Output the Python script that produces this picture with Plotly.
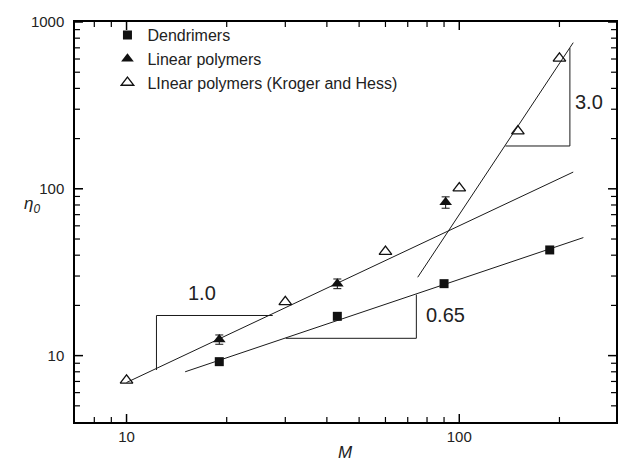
import math
import plotly.graph_objects as go

# ---- data ----
dend_M = [19, 43, 90, 187]
dend_eta = [9.2, 17.2, 27.0, 43.0]

lin_M = [19, 43, 91]
lin_eta = [12.5, 27.0, 83.0]
lin_err = [0.8, 1.8, 6.5]

kh_M = [10, 30, 60, 100, 150, 200]
kh_eta = [7.1, 21.0, 42.0, 101.0, 222.0, 605.0]

# fitted lines (end points)
fit_dend_M = [15, 236]
fit_dend_eta = [8.0, 51.0]
fit_lin_M = [10, 220]
fit_lin_eta = [6.9, 126.0]
fit_ent_M = [75, 220]
fit_ent_eta = [29.5, 752.0]

# slope triangles
tri1_M = [12.3, 12.3, 27.5]
tri1_eta = [8.2, 17.4, 17.4]
tri2_M = [30.1, 74.3, 74.3]
tri2_eta = [12.7, 12.7, 23.2]
tri3_M = [137.6, 215, 215]
tri3_eta = [180.6, 180.6, 698.0]

slope_labels = ["1.0", "0.65", "3.0"]
slope_label_M = [16.8, 78.5, 246]
slope_label_eta = [23.9, 17.4, 332]
slope_label_anchor = ["center", "left", "center"]

x_major = [10, 100]
y_major = [10, 100, 1000]

FONT = "Liberation Sans, Arial, sans-serif"
INK = "#222222"

X_MIN, X_MAX = 7.0, 10 ** 2.471
Y_MIN, Y_MAX = 4.0, 1000.0
X_RANGE = [math.log10(X_MIN), math.log10(X_MAX)]
Y_RANGE = [math.log10(Y_MIN), math.log10(Y_MAX)]
PLOT_W, PLOT_H = 543, 400
PX_PER_DEC_X = PLOT_W / (X_RANGE[1] - X_RANGE[0])
PX_PER_DEC_Y = PLOT_H / (Y_RANGE[1] - Y_RANGE[0])

fig = go.Figure()

line_style = dict(color="#1a1a1a", width=1)
for xs, ys in [(fit_dend_M, fit_dend_eta), (fit_lin_M, fit_lin_eta), (fit_ent_M, fit_ent_eta),
               (tri1_M, tri1_eta), (tri2_M, tri2_eta), (tri3_M, tri3_eta)]:
    fig.add_trace(go.Scatter(x=xs, y=ys, mode="lines", line=line_style,
                             showlegend=False, hoverinfo="skip"))

# inward tick marks on all four sides (built from the tick value lists)
def minor_in(lo, hi):
    out = []
    for d in range(0, 4):
        for k in range(2, 10):
            v = k * 10 ** d
            if lo < v < hi:
                out.append(v)
    return out

def tick_segments(length_px, xvals, yvals):
    fx = 10 ** (length_px / PX_PER_DEC_X)
    fy = 10 ** (length_px / PX_PER_DEC_Y)
    xs, ys = [], []
    for v in xvals:
        xs += [v, v, None, v, v, None]
        ys += [Y_MIN, Y_MIN * fy, None, Y_MAX, Y_MAX / fy, None]
    for v in yvals:
        xs += [X_MIN, X_MIN * fx, None, X_MAX, X_MAX / fx, None]
        ys += [v, v, None, v, v, None]
    return xs, ys

for length, width, xv, yv in [(8, 1.5, x_major, y_major),
                              (5, 1.2, minor_in(X_MIN, X_MAX), minor_in(Y_MIN, Y_MAX))]:
    tx, ty = tick_segments(length, xv, yv)
    fig.add_trace(go.Scatter(x=tx, y=ty, mode="lines", line=dict(color="black", width=width),
                             connectgaps=False, showlegend=False, hoverinfo="skip"))

fig.add_trace(go.Scatter(x=dend_M, y=dend_eta, mode="markers", name="Dendrimers",
                         marker=dict(symbol="square", size=9, color="#111111")))
fig.add_trace(go.Scatter(x=lin_M, y=lin_eta, mode="markers", name="Linear polymers",
                         marker=dict(symbol="triangle-up", size=11, color="#111111"),
                         error_y=dict(type="data", array=lin_err, color="#111111",
                                      thickness=1, width=4)))
fig.add_trace(go.Scatter(x=kh_M, y=kh_eta, mode="markers",
                         name="LInear polymers (Kroger and Hess)",
                         marker=dict(symbol="triangle-up-open", size=11, color="#111111",
                                     line=dict(width=1.3, color="#111111"))))

for t, mx, my, anc in zip(slope_labels, slope_label_M, slope_label_eta, slope_label_anchor):
    fig.add_annotation(x=math.log10(mx), y=math.log10(my), text=t, showarrow=False,
                       xanchor=anc, font=dict(family=FONT, size=20, color=INK))

fig.add_annotation(xref="paper", yref="paper", x=-0.098, y=0.5425, showarrow=False,
                   text="<i>η</i><sub><i>0</i></sub>",
                   font=dict(family=FONT, size=17, color=INK))
fig.add_annotation(xref="paper", yref="paper", x=0.5, y=-0.076, showarrow=False,
                   text="<i>M</i>", yanchor="middle",
                   font=dict(family=FONT, size=17, color=INK))

axis_common = dict(type="log", showgrid=False, zeroline=False, showline=True,
                   linecolor="black", linewidth=1.5, mirror=True,
                   ticks="inside", tickcolor="black",
                   tickfont=dict(family=FONT, size=15, color=INK))

fig.update_layout(
    xaxis=dict(**axis_common, range=X_RANGE, ticklen=8, tickwidth=1.3,
               tickmode="array", tickvals=x_major, ticktext=[str(v) for v in x_major]),
    yaxis=dict(**axis_common, range=Y_RANGE, ticklen=8, tickwidth=1.3,
               tickmode="array", tickvals=y_major, ticktext=[str(v) for v in y_major],
               ticklabelstandoff=6),
    width=620, height=464,
    margin=dict(l=75, r=2, t=22, b=42),
    paper_bgcolor="white", plot_bgcolor="white",
    font=dict(family=FONT, color=INK),
    legend=dict(x=0.06, y=1.01, xanchor="left", yanchor="top",
                bgcolor="rgba(0,0,0,0)", font=dict(family=FONT, size=16, color=INK),
                tracegroupgap=0),
)

fig.write_html("out.html")
